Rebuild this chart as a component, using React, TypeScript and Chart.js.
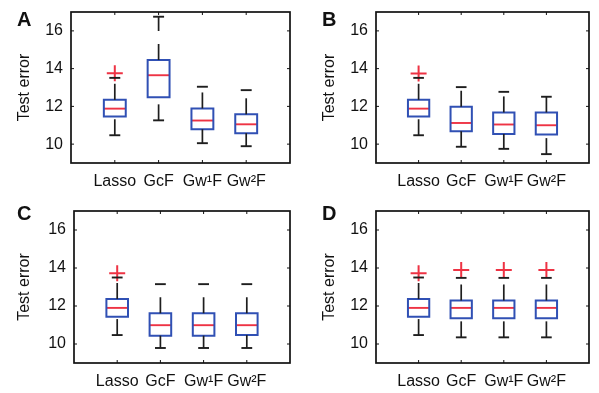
import React, { useEffect, useRef } from 'react';
import { Chart, registerables } from 'chart.js';

Chart.register(...registerables);

const categories = ['Lasso', 'GcF', 'Gw\u00B9F', 'Gw\u00B2F'];
const positions = [1, 2, 3, 4];
const yTickValues = [10, 12, 14, 16];
const panelLetters = ['A', 'B', 'C', 'D'];

// Panel A
const aLower = [10.47, 11.26, 10.05, 9.89];
const aQ1 = [11.46, 12.49, 10.79, 10.58];
const aMedian = [11.88, 13.65, 11.25, 11.05];
const aQ3 = [12.35, 14.46, 11.89, 11.58];
const aUpper = [13.51, 16.75, 13.04, 12.86];
const aOutliers = [13.75, null, null, null];

// Panel B
const bLower = [10.47, 9.86, 9.75, 9.47];
const bQ1 = [11.46, 10.68, 10.54, 10.51];
const bMedian = [11.88, 11.12, 11.04, 11.0];
const bQ3 = [12.35, 11.98, 11.68, 11.68];
const bUpper = [13.51, 13.02, 12.77, 12.51];
const bOutliers = [13.74, null, null, null];

// Panel C
const cLower = [10.47, 9.79, 9.79, 9.79];
const cQ1 = [11.44, 10.44, 10.44, 10.47];
const cMedian = [11.9, 10.99, 10.99, 10.99];
const cQ3 = [12.37, 11.62, 11.62, 11.62];
const cUpper = [13.5, 13.15, 13.15, 13.15];
const cOutliers = [13.73, null, null, null];

// Panel D
const dLower = [10.47, 10.35, 10.35, 10.35];
const dQ1 = [11.44, 11.35, 11.35, 11.35];
const dMedian = [11.9, 11.9, 11.9, 11.9];
const dQ3 = [12.37, 12.29, 12.29, 12.29];
const dUpper = [13.5, 13.48, 13.48, 13.48];
const dOutliers = [13.73, 13.89, 13.89, 13.89];

const BLUE = '#3050b4';
const RED = '#ee3344';
const BLACK = '#1e1e1e';
const FONT = "'Liberation Sans', Arial, Helvetica, sans-serif";

type Stats = {
  lower: number[];
  q1: number[];
  median: number[];
  q3: number[];
  upper: number[];
  outliers: (number | null)[];
};

const panelStats: Stats[] = [
  { lower: aLower, q1: aQ1, median: aMedian, q3: aQ3, upper: aUpper, outliers: aOutliers },
  { lower: bLower, q1: bQ1, median: bMedian, q3: bQ3, upper: bUpper, outliers: bOutliers },
  { lower: cLower, q1: cQ1, median: cMedian, q3: cQ3, upper: cUpper, outliers: cOutliers },
  { lower: dLower, q1: dQ1, median: dMedian, q3: dQ3, upper: dUpper, outliers: dOutliers },
];

const panelLayouts = [
  { x: 0, y: 0, w: 300, h: 196, yAxisW: 71, padTop: 12, padRight: 6, xAxisH: 33, titleX: 25, letterX: 17, letterY: 26 },
  { x: 300, y: 0, w: 299, h: 196, yAxisW: 76, padTop: 12, padRight: 3, xAxisH: 33, titleX: 30, letterX: 22, letterY: 26 },
  { x: 0, y: 196, w: 300, h: 197, yAxisW: 74, padTop: 15, padRight: 5, xAxisH: 30, titleX: 25, letterX: 17, letterY: 24 },
  { x: 300, y: 196, w: 299, h: 197, yAxisW: 76, padTop: 15, padRight: 3, xAxisH: 30, titleX: 30, letterX: 22, letterY: 24 },
];

const BOX_HALF = 0.25;
const CAP_HALF = 0.125;

function lineDs(points: { x: number; y: number }[], color: string, width: number, dash: number[] = []) {
  return {
    type: 'scatter' as const,
    data: points,
    showLine: true,
    borderColor: color,
    borderWidth: width,
    borderDash: dash,
    borderCapStyle: 'butt' as const,
    borderJoinStyle: 'miter' as const,
    pointRadius: 0,
    pointHoverRadius: 0,
    tension: 0,
  };
}

function buildDatasets(s: Stats) {
  const whiskers: any[] = [];
  const boxes: any[] = [];
  const medians: any[] = [];
  positions.forEach((p, i) => {
    whiskers.push(lineDs([{ x: p, y: s.q3[i] }, { x: p, y: s.upper[i] }], BLACK, 1.7, [16, 13]));
    whiskers.push(lineDs([{ x: p, y: s.lower[i] }, { x: p, y: s.q1[i] }], BLACK, 1.7, [16, 13]));
    whiskers.push(lineDs([{ x: p - CAP_HALF, y: s.upper[i] }, { x: p + CAP_HALF, y: s.upper[i] }], BLACK, 1.9));
    whiskers.push(lineDs([{ x: p - CAP_HALF, y: s.lower[i] }, { x: p + CAP_HALF, y: s.lower[i] }], BLACK, 1.9));
    boxes.push({
      ...lineDs(
        [
          { x: p - BOX_HALF, y: s.q1[i] },
          { x: p + BOX_HALF, y: s.q1[i] },
          { x: p + BOX_HALF, y: s.q3[i] },
          { x: p - BOX_HALF, y: s.q3[i] },
          { x: p - BOX_HALF, y: s.q1[i] },
        ],
        BLUE,
        2
      ),
      borderCapStyle: 'square',
    });
    medians.push(lineDs([{ x: p - BOX_HALF, y: s.median[i] }, { x: p + BOX_HALF, y: s.median[i] }], RED, 1.9));
  });
  const outlierPts = positions
    .map((p, i) => ({ x: p, y: s.outliers[i] }))
    .filter((pt) => pt.y !== null) as { x: number; y: number }[];
  const outliers = {
    type: 'scatter' as const,
    data: outlierPts,
    showLine: false,
    pointStyle: 'cross',
    pointRadius: 8,
    pointHoverRadius: 8,
    pointBorderColor: RED,
    pointBackgroundColor: RED,
    pointBorderWidth: 2,
  };
  return [...whiskers, ...boxes, ...medians, outliers];
}

function Panel({ index }: { index: number }) {
  const ref = useRef<HTMLCanvasElement>(null);
  const L = panelLayouts[index];
  useEffect(() => {
    const canvas = ref.current!;
    const framePlugin = {
      id: 'frame' + index,
      afterDraw(chart: any) {
        const { ctx, chartArea } = chart;
        const xs = chart.scales.x;
        const ys = chart.scales.y;
        ctx.save();
        ctx.strokeStyle = '#111';
        ctx.lineWidth = 1;
        const tl = 3;
        yTickValues.forEach((v) => {
          const py = ys.getPixelForValue(v);
          ctx.beginPath();
          ctx.moveTo(chartArea.left, py);
          ctx.lineTo(chartArea.left + tl, py);
          ctx.moveTo(chartArea.right, py);
          ctx.lineTo(chartArea.right - tl, py);
          ctx.stroke();
        });
        positions.forEach((v) => {
          const px = xs.getPixelForValue(v);
          ctx.beginPath();
          ctx.moveTo(px, chartArea.bottom);
          ctx.lineTo(px, chartArea.bottom - tl);
          ctx.moveTo(px, chartArea.top);
          ctx.lineTo(px, chartArea.top + tl);
          ctx.stroke();
        });
        ctx.lineWidth = 1.7;
        ctx.strokeRect(chartArea.left, chartArea.top, chartArea.right - chartArea.left, chartArea.bottom - chartArea.top);
        ctx.fillStyle = '#111';
        ctx.font = `bold 20px ${FONT}`;
        ctx.textBaseline = 'alphabetic';
        ctx.textAlign = 'left';
        ctx.fillText(panelLetters[index], L.letterX, L.letterY);
        ctx.restore();
      },
    };
    const chart = new Chart(canvas, {
      type: 'scatter',
      data: { datasets: buildDatasets(panelStats[index]) as any },
      options: {
        animation: false,
        responsive: false,
        devicePixelRatio: 1,
        events: [],
        layout: { padding: { left: 0, top: L.padTop, right: L.padRight, bottom: 0 } },
        plugins: { legend: { display: false }, tooltip: { enabled: false } },
        font: { family: FONT },
        scales: {
          x: {
            type: 'linear',
            min: 0,
            max: 5,
            grid: { display: false, drawTicks: false },
            border: { display: false },
            afterBuildTicks: (s: any) => {
              s.ticks = positions.map((v) => ({ value: v }));
            },
            afterFit: (s: any) => {
              s.height = L.xAxisH;
              s.paddingLeft = 0;
              s.paddingRight = 0;
            },
            ticks: {
              padding: 9,
              autoSkip: false,
              maxRotation: 0,
              color: '#111',
              font: { size: 16, family: FONT },
              callback: (v: any) => {
                const k = positions.indexOf(Number(v));
                return k >= 0 ? categories[k] : '';
              },
            },
          },
          y: {
            type: 'linear',
            min: 9,
            max: 17,
            grid: { display: false, drawTicks: false },
            border: { display: false },
            afterBuildTicks: (s: any) => {
              s.ticks = yTickValues.map((v) => ({ value: v }));
            },
            afterFit: (s: any) => {
              s.width = L.yAxisW;
              s.paddingTop = 0;
              s.paddingBottom = 0;
            },
            ticks: {
              padding: 8,
              color: '#111',
              font: { size: 16, family: FONT },
              callback: (v: any) => String(v),
            },
            title: {
              display: true,
              text: 'Test error',
              color: '#111',
              font: { size: 16, family: FONT },
              padding: { top: L.titleX - 9.6, bottom: 0 },
            },
          },
        },
      } as any,
      plugins: [framePlugin],
    });
    return () => chart.destroy();
  }, []);
  return (
    <canvas
      ref={ref}
      width={L.w}
      height={L.h}
      style={{ position: 'absolute', left: L.x, top: L.y, width: L.w, height: L.h }}
    />
  );
}

export default function App() {
  return (
    <div style={{ position: 'absolute', left: 0, top: 0, width: 599, height: 393, background: '#fff' }}>
      {panelLetters.map((_, i) => (
        <Panel key={i} index={i} />
      ))}
    </div>
  );
}
